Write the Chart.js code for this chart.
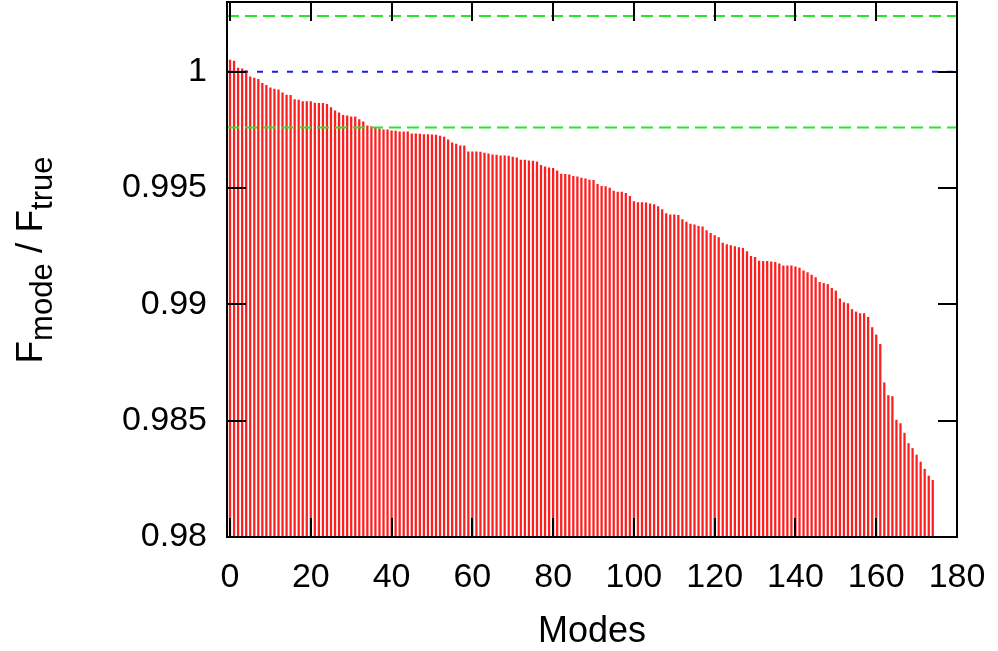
<!DOCTYPE html>
<html>
<head>
<meta charset="utf-8">
<script src="https://cdn.jsdelivr.net/npm/chart.js@4/dist/chart.umd.min.js"></script>
<style>
  html, body { margin: 0; background: #fff; }
  #wrap { width: 998px; height: 651px; }
</style>
</head>
<body>
<div id="wrap"><canvas id="myChart" width="998" height="651"></canvas></div>
<script>
// F_mode / F_true para cada modo (0..174)
const fluxRatio = [
  1.000501, 1.000458, 1.000159, 1.000129, 1.000050, 0.999786, 0.999730, 0.999674, 0.999503, 0.999417,
  0.999314, 0.999259, 0.999229, 0.999100, 0.999002, 0.998989, 0.998800, 0.998787, 0.998715, 0.998715,
  0.998715, 0.998659, 0.998646, 0.998646, 0.998603, 0.998458, 0.998316, 0.998230, 0.998132, 0.998102,
  0.998059, 0.998059, 0.997943, 0.997845, 0.997674, 0.997644, 0.997575, 0.997545, 0.997502, 0.997502,
  0.997459, 0.997446, 0.997416, 0.997416, 0.997416, 0.997331, 0.997331, 0.997318, 0.997301, 0.997301,
  0.997288, 0.997275, 0.997232, 0.997189, 0.997074, 0.996945, 0.996890, 0.996817, 0.996817, 0.996560,
  0.996560, 0.996560, 0.996547, 0.996504, 0.996474, 0.996431, 0.996418, 0.996388, 0.996388, 0.996375,
  0.996332, 0.996302, 0.996204, 0.996204, 0.996174, 0.996161, 0.996131, 0.995973, 0.995917, 0.995874,
  0.995844, 0.995746, 0.995604, 0.995587, 0.995574, 0.995501, 0.995488, 0.995433, 0.995403, 0.995347,
  0.995330, 0.995159, 0.995073, 0.995060, 0.995004, 0.994876, 0.994833, 0.994833, 0.994773, 0.994644,
  0.994417, 0.994374, 0.994374, 0.994362, 0.994319, 0.994289, 0.994203, 0.994075, 0.993903, 0.993848,
  0.993848, 0.993830, 0.993646, 0.993539, 0.993453, 0.993423, 0.993354, 0.993333, 0.993175, 0.993055,
  0.992961, 0.992875, 0.992631, 0.992575, 0.992532, 0.992490, 0.992438, 0.992412, 0.992275, 0.992061,
  0.992018, 0.991859, 0.991847, 0.991847, 0.991834, 0.991804, 0.991748, 0.991663, 0.991663, 0.991663,
  0.991620, 0.991560, 0.991448, 0.991363, 0.991260, 0.991148, 0.990947, 0.990904, 0.990861, 0.990690,
  0.990574, 0.990240, 0.990077, 0.990034, 0.989781, 0.989674, 0.989606, 0.989606, 0.989447, 0.989006,
  0.988685, 0.988282, 0.986632, 0.986084, 0.986041, 0.985026, 0.984876, 0.984465, 0.984019, 0.983805,
  0.983522, 0.983222, 0.982914, 0.982622, 0.982434
];
const modes = fluxRatio.map((_, i) => i);

// Lineas de referencia
const unity = 1.0;
const upperBound = 1.0024;
const lowerBound = 0.9976;

// Ejes
const xRange = [-0.75, 180];
const yRange = [0.98, 1.003];
const xTicks = [0, 20, 40, 60, 80, 100, 120, 140, 160, 180];
const yTicks = [0.98, 0.985, 0.99, 0.995, 1.0];

const FONT = "'Liberation Sans', Arial, sans-serif";
const FS = 34;

function hLine(y) {
  return [{ x: xRange[0], y: y }, { x: xRange[1], y: y }];
}

// Ticks hacia dentro, marco y titulos (estilo gnuplot)
const frame = {
  id: "frame",
  afterDatasetsDraw(chart) {
    const { ctx, chartArea: a, scales } = chart;
    const tl = 19;
    ctx.save();
    ctx.strokeStyle = "#000";
    ctx.lineWidth = 2;
    ctx.beginPath();
    xTicks.forEach((v) => {
      const px = Math.round(scales.x.getPixelForValue(v));
      ctx.moveTo(px, a.bottom); ctx.lineTo(px, a.bottom - tl);
      ctx.moveTo(px, a.top); ctx.lineTo(px, a.top + tl);
    });
    yTicks.forEach((v) => {
      const py = Math.round(scales.y.getPixelForValue(v));
      ctx.moveTo(a.left, py); ctx.lineTo(a.left + tl, py);
      ctx.moveTo(a.right, py); ctx.lineTo(a.right - tl, py);
    });
    ctx.stroke();
    ctx.strokeRect(a.left, a.top, a.right - a.left, a.bottom - a.top);

    // titulo eje x
    ctx.fillStyle = "#000";
    ctx.font = "36px " + FONT;
    ctx.textAlign = "center";
    ctx.textBaseline = "alphabetic";
    ctx.fillText("Modes", (a.left + a.right) / 2, 642);

    // titulo eje y con subindices
    const parts = [["F", false], ["mode", true], [" / F", false], ["true", true]];
    const mainFs = 37;
    const subFs = 31;
    let total = 0;
    parts.forEach(([t, sub]) => {
      ctx.font = (sub ? subFs : mainFs) + "px " + FONT;
      total += ctx.measureText(t).width;
    });
    ctx.translate(42, 260);
    ctx.rotate(-Math.PI / 2);
    ctx.textAlign = "left";
    let x = -total / 2;
    parts.forEach(([t, sub]) => {
      ctx.font = (sub ? subFs : mainFs) + "px " + FONT;
      ctx.fillText(t, x, sub ? 10 : 0);
      x += ctx.measureText(t).width;
    });
    ctx.restore();
  }
};

const ctx = document.getElementById("myChart");
const myChart = new Chart(ctx, {
  type: "bar",
  data: {
    datasets: [
      {
        type: "line",
        data: hLine(upperBound),
        borderColor: "rgb(40,230,40)",
        borderWidth: 2,
        borderDash: [12, 6],
        pointRadius: 0,
        order: 0
      },
      {
        type: "line",
        data: hLine(lowerBound),
        borderColor: "rgb(40,230,40)",
        borderWidth: 2,
        borderDash: [12, 6],
        pointRadius: 0,
        order: 0
      },
      {
        type: "line",
        data: hLine(unity),
        borderColor: "rgb(30,30,230)",
        borderWidth: 2,
        borderDash: [6, 9],
        pointRadius: 0,
        order: 0
      },
      {
        type: "bar",
        data: modes.map((m, i) => ({ x: m, y: fluxRatio[i] })),
        backgroundColor: "rgb(255,30,30)",
        borderWidth: 0,
        barThickness: 1.6,
        base: yRange[0],
        order: 1
      }
    ]
  },
  options: {
    responsive: false,
    animation: false,
    layout: { padding: { left: 0, top: 2, right: 41, bottom: 0 } },
    plugins: { legend: { display: false }, tooltip: { enabled: false } },
    scales: {
      x: {
        type: "linear",
        min: xRange[0],
        max: xRange[1],
        offset: false,
        grid: { display: false, drawTicks: false },
        border: { display: false },
        afterBuildTicks: (s) => { s.ticks = xTicks.map((v) => ({ value: v })); },
        afterFit: (s) => { s.height = 114; s.paddingLeft = 0; s.paddingRight = 0; },
        ticks: { color: "#000", padding: 20, maxRotation: 0, font: { family: FONT, size: FS } }
      },
      y: {
        min: yRange[0],
        max: yRange[1],
        grid: { display: false, drawTicks: false },
        border: { display: false },
        afterBuildTicks: (s) => { s.ticks = yTicks.map((v) => ({ value: v })); },
        afterFit: (s) => { s.width = 227; s.paddingTop = 0; s.paddingBottom = 0; },
        ticks: {
          color: "#000",
          padding: 20,
          font: { family: FONT, size: FS },
          callback: (v) => String(+Number(v).toFixed(3))
        }
      }
    }
  },
  plugins: [frame]
});
</script>
</body>
</html>
